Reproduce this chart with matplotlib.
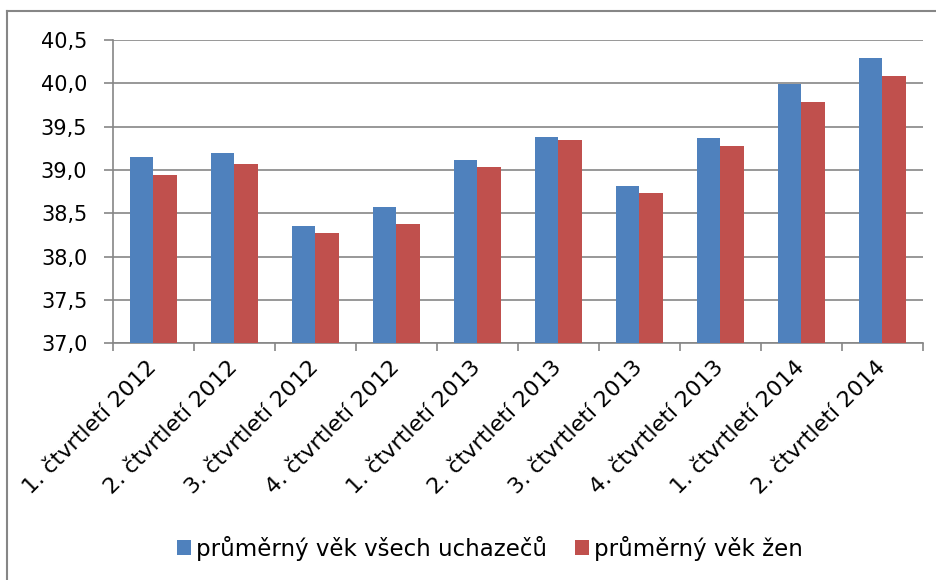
import numpy as np
import matplotlib
matplotlib.use("Agg")
import matplotlib.pyplot as plt
from matplotlib.lines import Line2D

# data
kvartaly = ["1. čtvrtletí 2012", "2. čtvrtletí 2012", "3. čtvrtletí 2012", "4. čtvrtletí 2012",
            "1. čtvrtletí 2013", "2. čtvrtletí 2013", "3. čtvrtletí 2013", "4. čtvrtletí 2013",
            "1. čtvrtletí 2014", "2. čtvrtletí 2014"]
vek_vsichni = [39.15, 39.20, 38.35, 38.57, 39.11, 39.38, 38.81, 39.37, 39.99, 40.29]
vek_zeny = [38.94, 39.07, 38.27, 38.38, 39.03, 39.35, 38.73, 39.28, 39.79, 40.08]
yticks = [37.0, 37.5, 38.0, 38.5, 39.0, 39.5, 40.0, 40.5]

plt.rcParams['font.family'] = ['DejaVu Sans']
grey = '#868686'

fig = plt.figure(figsize=(9.37, 5.8), dpi=100)
ax = fig.add_axes([0.1206, 0.408, 0.985 - 0.1206, 0.931 - 0.408])

x = np.arange(len(kvartaly))
w = 1 / 3.5
ax.bar(x - w / 2, vek_vsichni, w, color='#4F81BD', label='průměrný věk všech uchazečů', zorder=3)
ax.bar(x + w / 2, vek_zeny, w, color='#C0504D', label='průměrný věk žen', zorder=3)

ax.set_ylim(37.0, 40.5)
ax.set_xlim(-0.5, len(kvartaly) - 0.5)
ax.set_yticks(yticks)
ax.set_yticklabels([f"{v:.1f}".replace('.', ',') for v in yticks], fontsize=15)
ax.yaxis.grid(True, color=grey, linewidth=1.2, zorder=0)
ax.tick_params(axis='y', length=6.5, width=1.2, color=grey, pad=12)

ax.set_xticks(x)
ax.set_xticklabels(kvartaly, rotation=45, ha='right', va='center', rotation_mode='anchor', fontsize=16)
ax.tick_params(axis='x', which='major', length=0, pad=15)
ax.set_xticks(np.arange(-0.5, len(kvartaly)), minor=True)
ax.tick_params(axis='x', which='minor', length=6, width=1.2, color=grey)

for s in ['top', 'right']:
    ax.spines[s].set_visible(False)
for s in ['left', 'bottom']:
    ax.spines[s].set_color(grey)
    ax.spines[s].set_linewidth(1.2)

fig.legend(loc='center', bbox_to_anchor=(0.523, 0.055), ncol=2, frameon=False, fontsize=16.5,
           handlelength=0.6, handleheight=0.6, handletextpad=0.25, columnspacing=1.2)

# chart frame: only top and left edges are visible in the picture
top_y = 1 - 11 / 580
left_x = 7 / 937
fig.add_artist(Line2D([left_x, 1], [top_y, top_y], transform=fig.transFigure, color=grey, linewidth=1.5))
fig.add_artist(Line2D([left_x, left_x], [0, top_y], transform=fig.transFigure, color=grey, linewidth=1.5))

fig.savefig('out.png', dpi=100)
